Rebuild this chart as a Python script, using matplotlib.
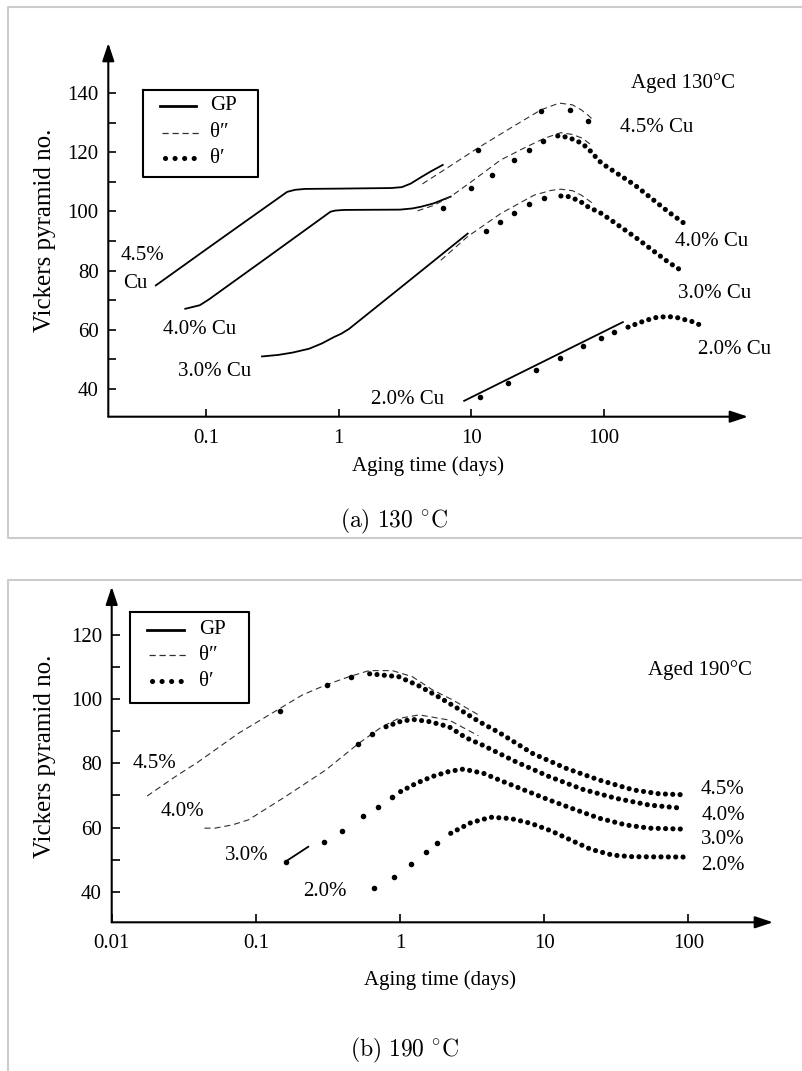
import numpy as np
import matplotlib
matplotlib.use("Agg")
import matplotlib.pyplot as plt
from matplotlib.ticker import NullLocator

SERIF = ["Liberation Serif", "DejaVu Serif"]
plt.rcParams["font.family"] = SERIF
plt.rcParams["font.size"] = 15
plt.rcParams["mathtext.fontset"] = "cm"

W, H = 803, 1071

# ---------------- (a) aged 130 C ----------------
a_gp45_t = [0.042, 0.1, 0.2, 0.41, 0.47, 0.56, 1.0, 2.5, 3.0, 3.5, 4.2, 5.0, 6.1]
a_gp45_v = [75.0, 87.1, 96.7, 106.6, 107.3, 107.6, 107.7, 107.9, 108.2, 109.4, 111.6, 113.6, 115.7]
a_gp40_t = [0.070, 0.09, 0.105, 0.3, 0.87, 0.95, 1.1, 2.9, 3.6, 4.2, 5.2, 7.0]
a_gp40_v = [67.1, 68.3, 70.2, 84.9, 99.9, 100.3, 100.5, 100.6, 101.0, 101.6, 102.7, 105.0]
a_gp30_t = [0.265, 0.35, 0.45, 0.6, 0.75, 0.92, 1.05, 1.2, 3.0, 9.4]
a_gp30_v = [51.0, 51.5, 52.3, 53.6, 55.4, 57.5, 58.7, 60.3, 74.6, 92.5]
a_gp20_t = [8.85, 139]
a_gp20_v = [36.0, 62.6]

a_th2_45_t = [4.29, 6.0, 11.2, 20, 33.5, 46, 58, 67.6, 76, 82.6]
a_th2_45_v = [109.3, 113.5, 121.4, 128.3, 134.3, 136.6, 136.0, 134.3, 132.5, 131.0]
a_th2_40_t = [3.94, 5.2, 7.0, 10, 16.7, 25, 35.6, 47.4, 58, 69, 80]
a_th2_40_v = [100.2, 102.0, 105.0, 110.0, 117.4, 121.4, 124.7, 126.6, 126.0, 124.7, 122.5]
a_th2_30_t = [5.9, 9.4, 16.7, 29.8, 40, 47.4, 58, 67.6, 82.6]
a_th2_30_v = [83.5, 91.5, 99.3, 105.5, 107.1, 107.5, 107.0, 105.5, 102.7]

a_th1_45_pt = [11.3, 33.5, 56, 76.3]
a_th1_45_pv = [120.8, 133.8, 134.1, 130.7]
a_th1_40_pt = [6.08, 9.9, 14.4, 21.1, 27.2, 34.7]
a_th1_40_pv = [101.0, 107.8, 112.3, 117.4, 120.8, 123.8]
a_th1_40_t = [44.9, 52.5, 60, 67.3, 75.6, 83.9, 95.9, 171, 305, 419]
a_th1_40_v = [125.5, 125.1, 124.2, 123.1, 121.4, 119.1, 116.3, 108.9, 99.9, 95.4]
a_th1_30_pt = [12.9, 16.5, 21.1, 27.2, 35.6]
a_th1_30_pv = [93.3, 96.5, 99.3, 102.5, 104.4]
a_th1_30_t = [47.4, 54, 61, 69, 75.6, 95.9, 171, 305, 380]
a_th1_30_v = [105.2, 105.0, 104.1, 102.9, 101.6, 99.3, 91.4, 82.9, 80.1]
a_th1_20_pt = [11.6, 18.9, 30.6, 46.9, 69.4, 94.4, 119]
a_th1_20_pv = [37.2, 41.9, 46.4, 50.4, 54.4, 57.2, 59.2]
a_th1_20_t = [152, 204, 250, 305, 370, 430, 461, 558]
a_th1_20_v = [60.9, 63.1, 64.2, 64.5, 64.0, 63.1, 62.8, 61.2]

# ---------------- (b) aged 190 C ----------------
b_th2_45_t = [0.0176, 0.0277, 0.040, 0.076, 0.148, 0.21, 0.305, 0.443, 0.61, 0.885, 1.22, 1.68, 2.31, 3.6]
b_th2_45_v = [69.8, 75.9, 80.5, 89.4, 97.2, 101.3, 104.4, 107.0, 108.9, 108.9, 107.0, 102.9, 99.8, 94.8]
b_th2_40_t = [0.044, 0.052, 0.0685, 0.089, 0.16, 0.305, 0.52, 0.75, 0.98, 1.36, 2.19, 3.5]
b_th2_40_v = [59.8, 59.8, 60.8, 62.4, 69.6, 77.9, 86.3, 91.4, 94.0, 95.1, 93.5, 88.6]
b_gp30_t = [0.161, 0.231]
b_gp30_v = [49.4, 54.0]

b_th1_45_pt = [0.148, 0.313, 0.455]
b_th1_45_pv = [96.4, 104.4, 107.0]
b_th1_45_t = [0.616, 0.98, 1.36, 1.87, 2.86, 3.54, 4.87, 8.3, 14.1, 24.1, 41.7, 63, 93.8]
b_th1_45_v = [107.9, 107.0, 104.1, 100.6, 95.6, 93.0, 89.6, 83.1, 78.5, 74.8, 71.7, 70.5, 70.2]
b_th1_40_pt = [0.514, 0.636]
b_th1_40_pv = [86.0, 89.2]
b_th1_40_t = [0.80, 1.0, 1.22, 1.6, 2.19, 2.86, 3.73, 6.36, 10.8, 18.5, 31.5, 53.6, 91.3]
b_th1_40_v = [91.4, 93.0, 93.7, 93.0, 91.4, 88.0, 85.7, 80.5, 75.9, 71.9, 69.1, 67.0, 66.0]
b_th1_30_pt = [0.163, 0.297, 0.397, 0.556, 0.707, 0.885]
b_th1_30_pv = [49.2, 55.4, 59.0, 63.6, 66.5, 69.4]
b_th1_30_t = [1.01, 1.3, 1.68, 2.2, 2.75, 3.79, 5.21, 10.8, 16.6, 24.1, 36.9, 53.6, 93.8]
b_th1_30_v = [71.2, 73.8, 75.9, 77.5, 78.2, 76.9, 74.3, 68.6, 65.5, 62.9, 60.8, 59.8, 59.5]
b_th1_20_pt = [0.66, 0.909, 1.19, 1.52, 1.82]
b_th1_20_pv = [41.1, 44.7, 48.6, 52.3, 55.3]
b_th1_20_t = [2.25, 3.1, 4.26, 5.87, 8.09, 11.1, 15.3, 21.1, 29.8, 41, 96.4]
b_th1_20_v = [58.2, 61.5, 63.2, 62.8, 61.3, 59.0, 56.1, 53.2, 51.4, 50.9, 50.8]

a_xticks = [0.1, 1, 10, 100]
a_xlabels = ["0.1", "1", "10", "100"]
b_xticks = [0.01, 0.1, 1, 10, 100]
b_xlabels = ["0.01", "0.1", "1", "10", "100"]


def rect(l, t, r, b):
    # pixel box -> figure fraction
    return [l / W, 1 - b / H, (r - l) / W, (b - t) / H]


GP = dict(color="k", lw=1.3)
TH2 = dict(color="#303030", lw=0.8, dashes=(5.5, 3.5))
TH1 = dict(color="k", lw=3.7, linestyle=(0, (0.01, 1.42)), dash_capstyle="round")
DOT = dict(color="k", marker="o", ls="none", ms=4.0, mew=0)


def setup(ax, xlim, ylim, xt, xl, ymaj, ymin):
    ax.set_xscale("log")
    ax.set_xlim(*xlim)
    ax.set_ylim(*ylim)
    for s in ax.spines.values():
        s.set_visible(False)
    ax.set_xticks(xt)
    ax.set_xticklabels(xl)
    ax.xaxis.set_minor_locator(NullLocator())
    ax.set_yticks(ymaj)
    ax.set_yticks(ymin, minor=True)
    ax.tick_params(which="both", direction="in", length=5.8, width=1.2, labelsize=15)
    ax.tick_params(axis="y", pad=7)
    ax.tick_params(axis="x", pad=8.5)
    arr = dict(arrowstyle="-|>,head_length=0.9,head_width=0.3", color="k", lw=1.5,
               mutation_scale=12, shrinkA=0, shrinkB=0)
    ax.annotate("", xy=(1, 0), xytext=(0, 0), xycoords="axes fraction", arrowprops=arr)
    ax.annotate("", xy=(0, 1), xytext=(0, 0), xycoords="axes fraction", arrowprops=arr)


fig = plt.figure(figsize=(W / 100, H / 100), dpi=100)

# panel (a)
ax1 = fig.add_axes(rect(108.3, 43, 748, 416.7))
setup(ax1, (10 ** -1.735, 10 ** 3.086), (30.64, 156.9), a_xticks, a_xlabels,
      [40, 60, 80, 100, 120, 140], [50, 70, 90, 110, 130])
ax1.plot(a_gp45_t, a_gp45_v, **GP)
ax1.plot(a_gp40_t, a_gp40_v, **GP)
ax1.plot(a_gp30_t, a_gp30_v, **GP)
ax1.plot(a_gp20_t, a_gp20_v, **GP)
ax1.plot(a_th2_45_t, a_th2_45_v, **TH2)
ax1.plot(a_th2_40_t, a_th2_40_v, **TH2)
ax1.plot(a_th2_30_t, a_th2_30_v, **TH2)
ax1.plot(a_th1_45_pt, a_th1_45_pv, **DOT)
ax1.plot(a_th1_40_pt, a_th1_40_pv, **DOT)
ax1.plot(a_th1_30_pt, a_th1_30_pv, **DOT)
ax1.plot(a_th1_20_pt, a_th1_20_pv, **DOT)
ax1.plot(a_th1_40_t, a_th1_40_v, **TH1)
ax1.plot(a_th1_30_t, a_th1_30_v, **TH1)
ax1.plot(a_th1_20_t, a_th1_20_v, **TH1)

# panel (b)
ax2 = fig.add_axes(rect(111.7, 586.7, 773, 922.3))
setup(ax2, (0.01, 10 ** 2.588), (30.46, 135.05), b_xticks, b_xlabels,
      [40, 60, 80, 100, 120], [50, 70, 90, 110])
ax2.plot(b_th2_45_t, b_th2_45_v, **TH2)
ax2.plot(b_th2_40_t, b_th2_40_v, **TH2)
ax2.plot(b_gp30_t, b_gp30_v, **GP)
ax2.plot(b_th1_45_pt, b_th1_45_pv, **DOT)
ax2.plot(b_th1_40_pt, b_th1_40_pv, **DOT)
ax2.plot(b_th1_30_pt, b_th1_30_pv, **DOT)
ax2.plot(b_th1_20_pt, b_th1_20_pv, **DOT)
ax2.plot(b_th1_45_t, b_th1_45_v, **TH1)
ax2.plot(b_th1_40_t, b_th1_40_v, **TH1)
ax2.plot(b_th1_30_t, b_th1_30_v, **TH1)
ax2.plot(b_th1_20_t, b_th1_20_v, **TH1)

# overlay in pixel coordinates for frames, legends and labels
ov = fig.add_axes([0, 0, 1, 1], zorder=10)
ov.set_xlim(0, W)
ov.set_ylim(H, 0)
ov.axis("off")

border = dict(color="#cccccc", lw=1.5, solid_capstyle="butt")
ov.plot([W, 8, 8, W], [7, 7, 538, 538], **border)
ov.plot([W, 8, 8], [580, 580, H], **border)


def legend(box, x_line, x_text, ys):
    l, t, r, b = box
    ov.plot([l, r, r, l, l], [t, t, b, b, t], color="k", lw=1.5)
    ov.plot([x_line[0], x_line[1]], [ys[0], ys[0]], color="k", lw=2.0)
    ov.plot([x_line[0] + 2, x_line[1] + 3], [ys[1], ys[1]], color="#303030", lw=0.9,
            dashes=(5, 3))
    ov.plot([x_line[0] + 5, x_line[1]], [ys[2], ys[2]], color="k", lw=3.7,
            linestyle=(0, (0.01, 1.85)), dash_capstyle="round")
    for y, s in zip(ys, ["GP", "θ″", "θ′"]):
        ov.text(x_text, y, s, ha="left", va="center", fontsize=15)


legend((143.3, 90, 258, 177.3), (160, 196), 210, [106, 132.7, 158.3])
legend((130, 611.7, 249.3, 702.7), (146.7, 184), 199, [629.5, 655, 681])

txt = dict(ha="center", va="center", fontsize=15)
# panel (a) labels
ov.text(683, 83, "Aged 130°C", **txt)
ov.text(657, 128, "4.5% Cu", **txt)
ov.text(712, 242, "4.0% Cu", **txt)
ov.text(715, 293, "3.0% Cu", **txt)
ov.text(735, 350, "2.0% Cu", **txt)
ov.text(143, 255, "4.5%", **txt)
ov.text(135, 283, "Cu", **txt)
ov.text(200, 330, "4.0% Cu", **txt)
ov.text(215, 371, "3.0% Cu", **txt)
ov.text(408, 400, "2.0% Cu", **txt)
ov.text(45, 230, "Vickers pyramid no.", rotation=90, ha="center", va="center", fontsize=18)
ov.text(428, 466, "Aging time (days)", **txt)
ov.text(394, 521, r"$\mathrm{(a)\ 130\ {}^{\circ}C}$", ha="center", va="center", fontsize=17)

# panel (b) labels
ov.text(700, 670, "Aged 190°C", **txt)
ov.text(155, 763, "4.5%", **txt)
ov.text(182, 811, "4.0%", **txt)
ov.text(247, 856, "3.0%", **txt)
ov.text(325, 891, "2.0%", **txt)
ov.text(723, 789, "4.5%", **txt)
ov.text(723, 815, "4.0%", **txt)
ov.text(723, 840, "3.0%", **txt)
ov.text(723, 865, "2.0%", **txt)
ov.text(45, 756, "Vickers pyramid no.", rotation=90, ha="center", va="center", fontsize=18)
ov.text(440, 980, "Aging time (days)", **txt)
ov.text(405, 1050, r"$\mathrm{(b)\ 190\ {}^{\circ}C}$", ha="center", va="center", fontsize=17)

fig.savefig("out.png", dpi=100)
